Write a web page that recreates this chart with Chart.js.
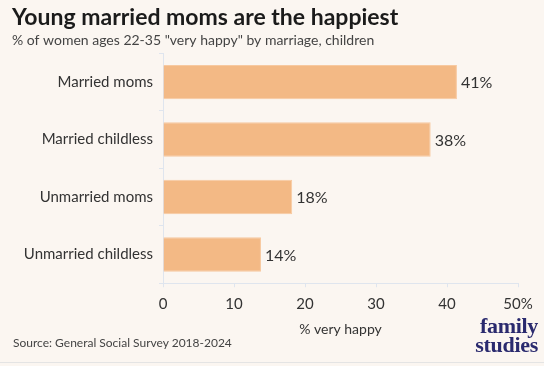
<!DOCTYPE html>
<html>
<head>
<meta charset="utf-8">
<script src="https://cdn.jsdelivr.net/npm/chart.js@4"></script>
<style>
  html, body { margin: 0; padding: 0; background: #fbf6f1; }
  #wrap { position: relative; width: 544px; height: 362px; background: #fbf6f1; border-bottom: 1px solid #e4e4e4; }
  #source { position: absolute; left: 13px; top: 335px; font: 12px Lato, sans-serif; color: #444; }
  #logo { position: absolute; right: 6px; top: 316px; font: bold 22px "Liberation Serif", serif; color: #2a2a6e; line-height: 19px; text-align: right; letter-spacing: -0.3px; }
</style>
</head>
<body>
<div id="wrap">
  <canvas id="chart" width="544" height="362"></canvas>
  <div id="source">Source: General Social Survey 2018-2024</div>
  <div id="logo">family<br>studies</div>
</div>
<script>
const categories = ['Married moms', 'Married childless', 'Unmarried moms', 'Unmarried childless'];
const veryHappy = [41.4, 37.7, 18.2, 13.8];
const xTicks = [0, 10, 20, 30, 40, 50];

const barLabels = {
    id: 'barLabels',
    afterDatasetsDraw(chart) {
        const ctx = chart.ctx;
        const meta = chart.getDatasetMeta(0);
        ctx.save();
        ctx.font = '16px Lato';
        ctx.fillStyle = '#333';
        ctx.textBaseline = 'middle';
        meta.data.forEach((bar, i) => {
            ctx.fillText(Math.round(veryHappy[i]) + '%', bar.x + 4, bar.y + 1);
        });
        ctx.restore();
    }
};

const ctx = document.getElementById('chart');
const chart = new Chart(ctx, {
    type: 'bar',
    data: {
        labels: categories,
        datasets: [{
            data: veryHappy,
            backgroundColor: '#f3b985',
            borderColor: '#f7c9a0',
            borderWidth: 1,
            categoryPercentage: 1,
            barPercentage: 0.6
        }]
    },
    options: {
        indexAxis: 'y',
        responsive: false,
        animation: false,
        layout: { padding: { left: 12, right: 26, top: 2, bottom: 24 } },
        plugins: {
            legend: { display: false },
            tooltip: { enabled: false },
            title: {
                display: true,
                text: 'Young married moms are the happiest',
                align: 'start',
                color: '#1b1b1b',
                font: { family: 'Lato', size: 23, weight: 'bold' },
                padding: { top: 2, bottom: 0 }
            },
            subtitle: {
                display: true,
                text: '% of women ages 22-35 "very happy" by marriage, children',
                align: 'start',
                color: '#444',
                font: { family: 'Lato', size: 14 },
                padding: { top: 0, bottom: 5 }
            }
        },
        scales: {
            x: {
                min: 0,
                max: 50,
                afterBuildTicks(scale) {
                    scale.ticks = xTicks.map(v => ({ value: v }));
                },
                ticks: {
                    color: '#333',
                    font: { family: 'Lato', size: 15 },
                    padding: 8,
                    maxRotation: 0,
                    callback: v => v === 50 ? '50%' : v
                },
                grid: { drawOnChartArea: false, drawTicks: true, tickLength: 4, color: '#dfe5ee' },
                border: { color: '#dfe5ee' },
                title: {
                    display: true,
                    text: '% very happy',
                    color: '#333',
                    font: { family: 'Lato', size: 14 },
                    padding: { top: 0, bottom: 0 }
                }
            },
            y: {
                afterFit(scale) { scale.width = 151; },
                ticks: {
                    color: '#333',
                    font: { family: 'Lato', size: 15 },
                    padding: 6
                },
                grid: { drawOnChartArea: false, drawTicks: true, tickLength: 4, color: '#dfe5ee' },
                border: { color: '#dfe5ee' }
            }
        }
    },
    plugins: [barLabels]
});
</script>
</body>
</html>
